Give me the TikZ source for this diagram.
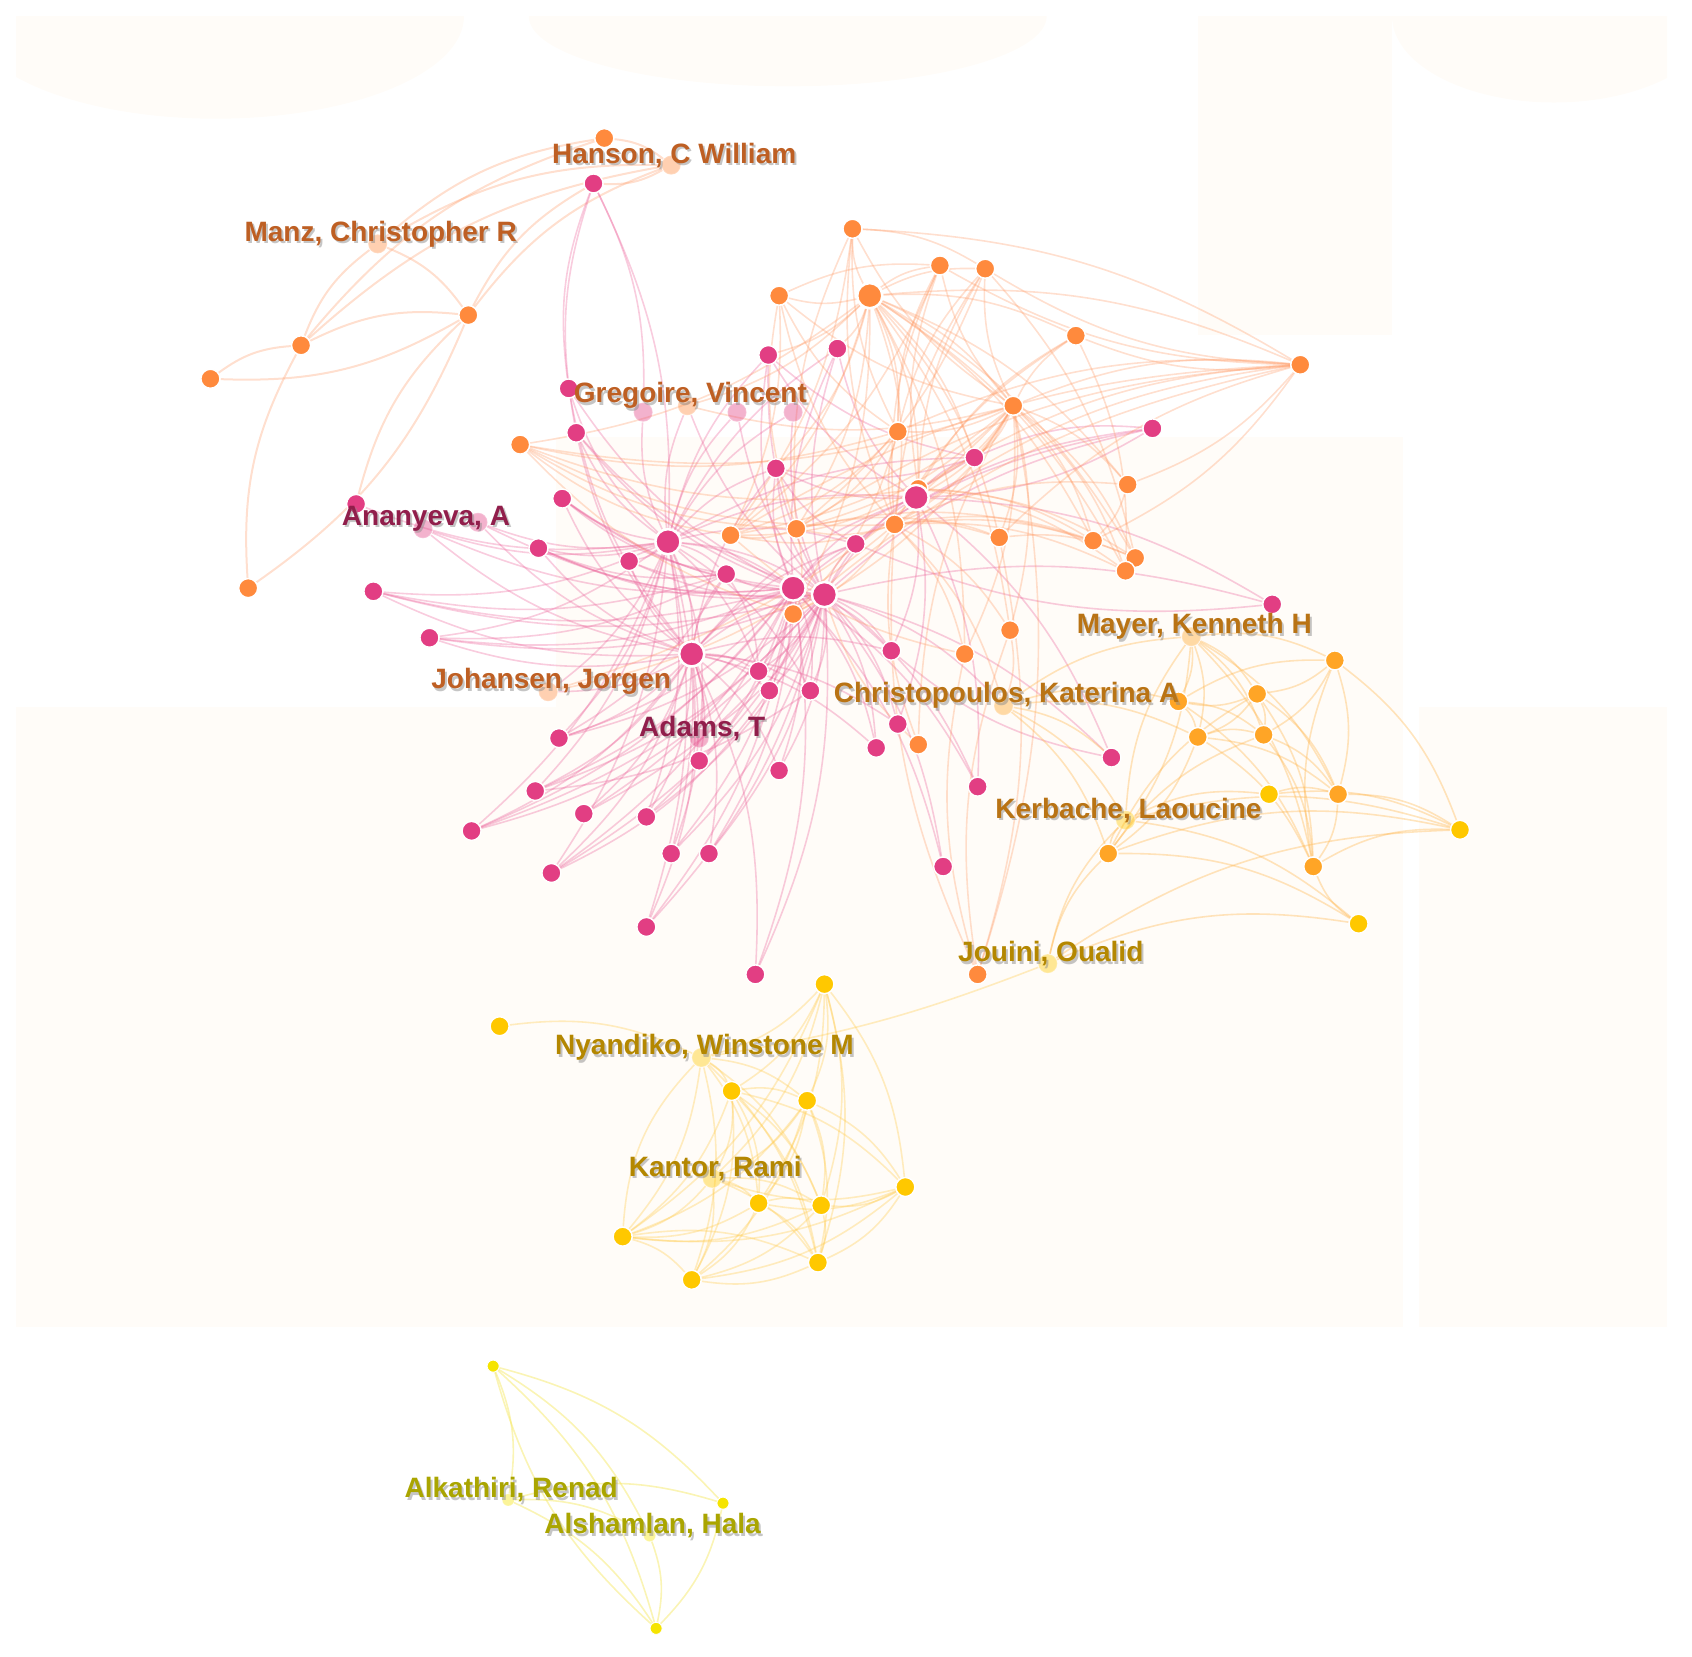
\documentclass[tikz,border=0pt]{standalone}
\usepackage{fontspec}
\setmainfont{Liberation Sans}
\pgfdeclarelayer{back}
\pgfdeclarelayer{edges}
\pgfsetlayers{back,edges,main}
\definecolor{pk}{RGB}{226,62,131}
\definecolor{orn}{RGB}{255,138,61}
\definecolor{oy}{RGB}{255,165,38}
\definecolor{yl}{RGB}{255,200,0}
\definecolor{by}{RGB}{245,228,0}
\definecolor{pkE}{RGB}{236,100,155}
\definecolor{orE}{RGB}{255,150,95}
\definecolor{oyE}{RGB}{255,180,70}
\definecolor{ylE}{RGB}{255,205,80}
\definecolor{byE}{RGB}{245,230,90}
\definecolor{bgc}{RGB}{255,252,248}
\definecolor{lbO}{RGB}{190,95,35}
\definecolor{lbP}{RGB}{145,30,75}
\definecolor{lbG}{RGB}{185,115,20}
\definecolor{lbY}{RGB}{180,135,0}
\definecolor{lbB}{RGB}{170,165,0}
\tikzset{
  nd/.style={circle,draw=white,line width=1.4pt,minimum size=19pt,inner sep=0pt},
  pn/.style={nd,fill=pk},
  ornode/.style={nd,fill=orn},
  oynode/.style={nd,fill=oy},
  ylnode/.style={nd,fill=yl},
  bynode/.style={nd,fill=by,minimum size=12pt,line width=0.8pt},
  hub/.style={minimum size=25pt,line width=2.4pt},
  pale/.style={fill opacity=0.4,draw opacity=0.2},
  pkedge/.style={draw=pkE,opacity=0.33,line width=1.6pt},
  oredge/.style={draw=orE,opacity=0.3,line width=1.6pt},
  tledge/.style={draw=orE,opacity=0.3,line width=2pt},
  oyedge/.style={draw=oyE,opacity=0.35,line width=1.6pt},
  yledge/.style={draw=ylE,opacity=0.35,line width=1.6pt},
  byedge/.style={draw=byE,opacity=0.45,line width=1.6pt},
  lab/.style={font=\fontsize{28}{30}\selectfont\bfseries,inner sep=0pt},
}
\newcommand\lbl[4]{%
  \node[lab,text=black!45,opacity=0.5] (#1s) at ([xshift=5pt,yshift=7.5pt]#2) {#4};
  \node[lab,text=#3] (#1) at ([xshift=3pt,yshift=10pt]#2) {#4};}
\begin{document}
\begin{tikzpicture}[x=1.079pt,y=-1.079pt]
\useasboundingbox (0,0) rectangle (1568,1535);
% background
\begin{pgfonlayer}{back}
\begin{scope}
\clip (15,15) rectangle (1545,1520);
\fill[bgc] (200,15) ellipse (230 and 95);
\fill[bgc] (730,15) ellipse (240 and 65);
\fill[bgc] (1440,15) ellipse (150 and 80);
\fill[bgc] (1110,15) rectangle (1290,310);
\fill[bgc] (515,405) rectangle (1300,1230);
\fill[bgc] (15,655) rectangle (515,1230);
\fill[bgc] (1315,655) rectangle (1545,1230);
\end{scope}
\end{pgfonlayer}
% ---- nodes ----
\foreach \n/\x/\y in {a1/560/128,a2/434/292,a3/279/320,a4/195/351,a5/230/545,
  o1/790/212,o2/722/274,o4/871/246,o5/913/249,o6/997/311,o7/1205/338,o8/939/376,
  o9/832/400,o10/1045/449,o11/851/453,o12/829/486,o13/738/490,o14/677/496,o15/926/498,
  o16/1013/501,o17/1052/517,o18/1043/529,o19/735/569,o20/936/584,o21/894/606,
  o22/482/412,o23/851/690,o24/906/903}
  \node[ornode] (\n) at (\x,\y) {};
\node[ornode,hub] (o3) at (806,274) {};
\foreach \n/\x/\y in {ph/550/170,pan/330/467,p1/712/329,p2/776/323,p3/527/360,p4/534/401,
  p8/1068/397,p9/719/434,p10/903/424,p12/521/462,p13/499/508,p14/583/520,
  p16/673/532,p17/793/504,p20/1179/560,p21/346/548,p22/398/591,
  p24/703/622,p25/713/640,p26/751/640,p27/826/603,p28/832/671,p29/812/693,p30/1030/702,
  p31/906/729,p32/874/803,p33/518/684,p34/648/705,p35/722/714,p36/496/733,p37/541/754,
  p38/599/757,p39/437/770,p40/622/791,p41/657/791,p42/511/809,p43/599/859,p44/700/903}
  \node[pn] (\n) at (\x,\y) {};
\foreach \n/\x/\y in {p11/849/461,p15/619/502,p18/735/545,p19/764/551,p23/641/606}
  \node[pn,hub] (\n) at (\x,\y) {};
\foreach \n/\x/\y in {p5/596/382,p6/683/382,p7/735/382,p44b/443/484}
  \node[pn,pale] (\n) at (\x,\y) {};
\foreach \n/\x/\y in {r1/1237/612,r2/1165/643,r3/1092/650,r4/1110/683,r5/1171/681,
  r7/1240/736,r8/1027/791,r9/1217/803}
  \node[oynode] (\n) at (\x,\y) {};
\foreach \n/\x/\y in {r6/1176/736,r10/1353/769,r11/1259/856,
  y1/764/912,y2/463/951,y3/678/1011,y4/748/1020,y5/839/1100,y6/703/1115,y7/761/1117,
  y8/577/1146,y9/758/1170,y10/641/1186}
  \node[ylnode] (\n) at (\x,\y) {};
\foreach \n/\x/\y in {b1/457/1266,b2/670/1393,b3/608/1509}
  \node[bynode] (\n) at (\x,\y) {};
% labelled (pale) nodes
\node[ornode,pale] (hanson) at (622,153) {};
\node[ornode,pale] (manz) at (350,226) {};
\node[ornode,pale] (greg) at (637,376) {};
\node[pn,pale] (anany) at (392,490) {};
\node[ornode,pale] (johan) at (508,641) {};
\node[pn,pale] (adams) at (648,684) {};
\node[oynode,pale] (christ) at (930,654) {};
\node[oynode,pale] (mayer) at (1104,590) {};
\node[ylnode,pale] (kerb) at (1043,760) {};
\node[ylnode,pale] (jouini) at (971,893) {};
\node[ylnode,pale] (nyan) at (650,980) {};
\node[ylnode,pale] (kantor) at (660,1092) {};
\node[bynode,pale] (alkat) at (471,1390) {};
\node[bynode,pale] (alsham) at (602,1423) {};
% ---- edges ----
\begin{pgfonlayer}{edges}
% top-left cluster
\foreach \a/\b in {a4/a3,a2/a4,a3/manz,a3/a2,a3/hanson,a3/a1,manz/a2,a2/hanson,a2/ph,
  a5/a3,a2/a5,pan/a2,a1/hanson,manz/a1,hanson/ph,manz/hanson}
  \draw[tledge] (\a) to[bend left=16] (\b);
% pink edges
\foreach \b in {p3,p4,p12,p13,p14,p21,p22,p23,p16,p18,p19,p33,p36,p39,p42,p9,p1,p5,p6,p7,
  anany,p44b,p2,p17,p24,p26,p38,p40,p43,p11,p10,greg,johan,adams,pan}
  \draw[pkedge] (p15) to[bend left=14] (\b);
\foreach \b in {p21,p22,p13,anany,p44b,p33,p36,p37,p38,p39,p40,p41,p42,p43,p44,p34,p35,p24,p25,p26,
  p19,p18,p14,p12,p16,p4,p3,p9,p27,p28,p29,p11,p17,johan,adams}
  \draw[pkedge] (p23) to[bend left=14] (\b);
\foreach \b in {p8,p10,p11,p17,p20,p27,p28,p29,p30,p31,p32,p35,p41,p44,p43,p2,p1,p9,p7,p6,
  p18,p26,p24,p25,p22,p21,p13,p33,p36,p37,p38,p39,p40,p42,p14,p12,p4,christ,greg,adams,p44b}
  \draw[pkedge] (p19) to[bend left=14] (\b);
\foreach \b in {p1,p2,p9,p16,p24,p25,p26,p34,p35,p37,p38,p40,p41,p42,p36,p39,p21,p22,p13,
  p12,p3,p4,p11,p17,p27,p29,p31,p32,p8,p43,p44,p33,anany}
  \draw[pkedge] (p18) to[bend left=14] (\b);
\foreach \a/\b in {p16/p14,p16/p13,p16/p12,p16/p21,p16/p22,p16/p33,p16/p24,p3/ph,p4/ph,
  ph/p5,ph/p15,p8/p11,p17/p8,p10/p8,p20/p17,p11/p20,p30/p27,p11/p30,p11/p10,p11/p2,p11/p1,
  p11/p9,p11/p27,p11/p28,p11/p31,p10/p9,p10/p1,p17/p9,p26/p36,p24/p39,p25/p42}
  \draw[pkedge] (\a) to[bend left=14] (\b);
% orange edges
\foreach \b in {o1,o2,o4,o5,o6,o7,o8,o9,o10,o11,o12,o13,o14,o15,o16,o17,o18,o19,o20,o21,
  p2,p1,p9,p10,o22,greg}
  \draw[oredge] (o3) to[bend left=14] (\b);
\foreach \b in {o1,o2,o4,o5,o6,o7,o9,o10,o11,o12,o13,o14,o15,o16,o17,o18,o20,o21,o22,
  p10,p11,o19,greg,johan}
  \draw[oredge] (o8) to[bend left=14] (\b);
\foreach \b in {o22,o14,o13,o19,o10,o16,o17,o18,o7,o6,o5,o4,o1,o2,o9,o15,o20,o21,johan,christ}
  \draw[oredge] (o12) to[bend left=14] (\b);
\foreach \a/\b in {o9/o13,o9/o14,o9/o22,o9/o19,o9/o2,o9/o1,o9/o4,o9/o5,o13/o14,o13/o19,
  o13/o2,o13/o1,o13/o22,o13/o16,o13/o15,o11/o5,o11/o4,o11/o6,o11/o7,o11/o22,o11/o14,o11/o16,
  o11/o17,o11/o18,o24/o20,o24/o21,o15/o24,o8/o24,o24/o12,o7/o6,o7/o5,o7/o4,o1/o7,o7/o10,
  o7/o16,o10/o16,o15/o17,o6/o18,o5/o17,o14/o22,o19/o22,o23/o12,o23/o8,o23/p19,o20/christ,
  o21/o14,o2/o14,o1/o14,o4/o14,o5/o13,o2/o4,o1/o5,o9/o7,o15/o7,o13/o7,o14/o7,o19/o7}
  \draw[oredge] (\a) to[bend left=14] (\b);
% right cluster
\foreach \a/\b in {mayer/r1,mayer/r2,mayer/r3,mayer/r4,mayer/r5,mayer/r7,mayer/r9,kerb/mayer,
  mayer/r8,christ/mayer,r1/r2,r1/r5,r1/r7,r9/r1,r3/r1,r2/r3,r2/r4,r2/r5,r2/r7,r2/r9,r3/r4,r3/r5,
  r4/r5,r4/r8,r4/r7,r4/r9,r5/r7,r5/r9,r6/r7,r6/r10,kerb/r6,r7/r9,r9/r10,r11/r9,r8/kerb,r8/r10,
  r8/r11,kerb/r11,kerb/r10,jouini/r8,jouini/kerb,jouini/r11,jouini/r10,christ/r4,christ/r3,
  christ/kerb,r8/r5,r8/r2,r7/r10,r3/r9,r1/r10,christ/p30,christ/r8}
  \draw[oyedge] (\a) to[bend left=16] (\b);
% bottom cluster
\foreach \a/\b in {y1/y3,y1/y4,y1/y5,y1/y6,y1/y7,y1/y9,y1/nyan,y1/y8,y1/kantor,nyan/y3,nyan/y4,
  nyan/y8,nyan/y10,nyan/y6,nyan/y7,nyan/y9,y3/y4,y3/y5,y3/y6,y3/y7,y3/y8,y3/y9,y3/y10,y3/kantor,
  y4/y5,y4/y6,y4/y7,y4/y8,y4/y9,y4/y10,y4/kantor,y5/y6,y5/y7,y5/y8,y5/y9,y5/y10,y5/kantor,
  kantor/y6,kantor/y7,kantor/y8,kantor/y9,kantor/y10,y6/y7,y6/y8,y6/y9,y6/y10,y7/y8,y7/y9,
  y7/y10,y8/y9,y8/y10,y9/y10,y2/nyan}
  \draw[yledge] (\a) to[bend left=16] (\b);
\draw[yledge] (nyan) to[bend right=6] (jouini);
\draw[yledge] (y8) to[bend left=20] (nyan);
% bright yellow
\foreach \a/\b in {b1/alkat,b1/b3,b3/b1,b1/b2,b1/alsham,alkat/b2,alkat/b3,alsham/b3,b2/b3,alkat/alsham}
  \draw[byedge] (\a) to[bend left=16] (\b);
\end{pgfonlayer}
% ---- labels ----
\lbl{Lhan}{hanson}{lbO}{Hanson, C William}
\lbl{Lmanz}{manz}{lbO}{Manz, Christopher R}
\lbl{Lgreg}{greg}{lbO}{Gregoire, Vincent}
\lbl{Lana}{anany}{lbP}{Ananyeva, A}
\lbl{Ljoh}{johan}{lbO}{Johansen, Jorgen}
\lbl{Lada}{adams}{lbP}{Adams, T}
\lbl{Lchr}{christ}{lbG}{Christopoulos, Katerina A}
\lbl{Lmay}{mayer}{lbG}{Mayer, Kenneth H}
\lbl{Lker}{kerb}{lbG}{Kerbache, Laoucine}
\lbl{Ljou}{jouini}{lbY}{Jouini, Oualid}
\lbl{Lnya}{nyan}{lbY}{Nyandiko, Winstone M}
\lbl{Lkan}{kantor}{lbY}{Kantor, Rami}
\lbl{Lalk}{alkat}{lbB}{Alkathiri, Renad}
\lbl{Lals}{alsham}{lbB}{Alshamlan, Hala}
\end{tikzpicture}
\end{document}
